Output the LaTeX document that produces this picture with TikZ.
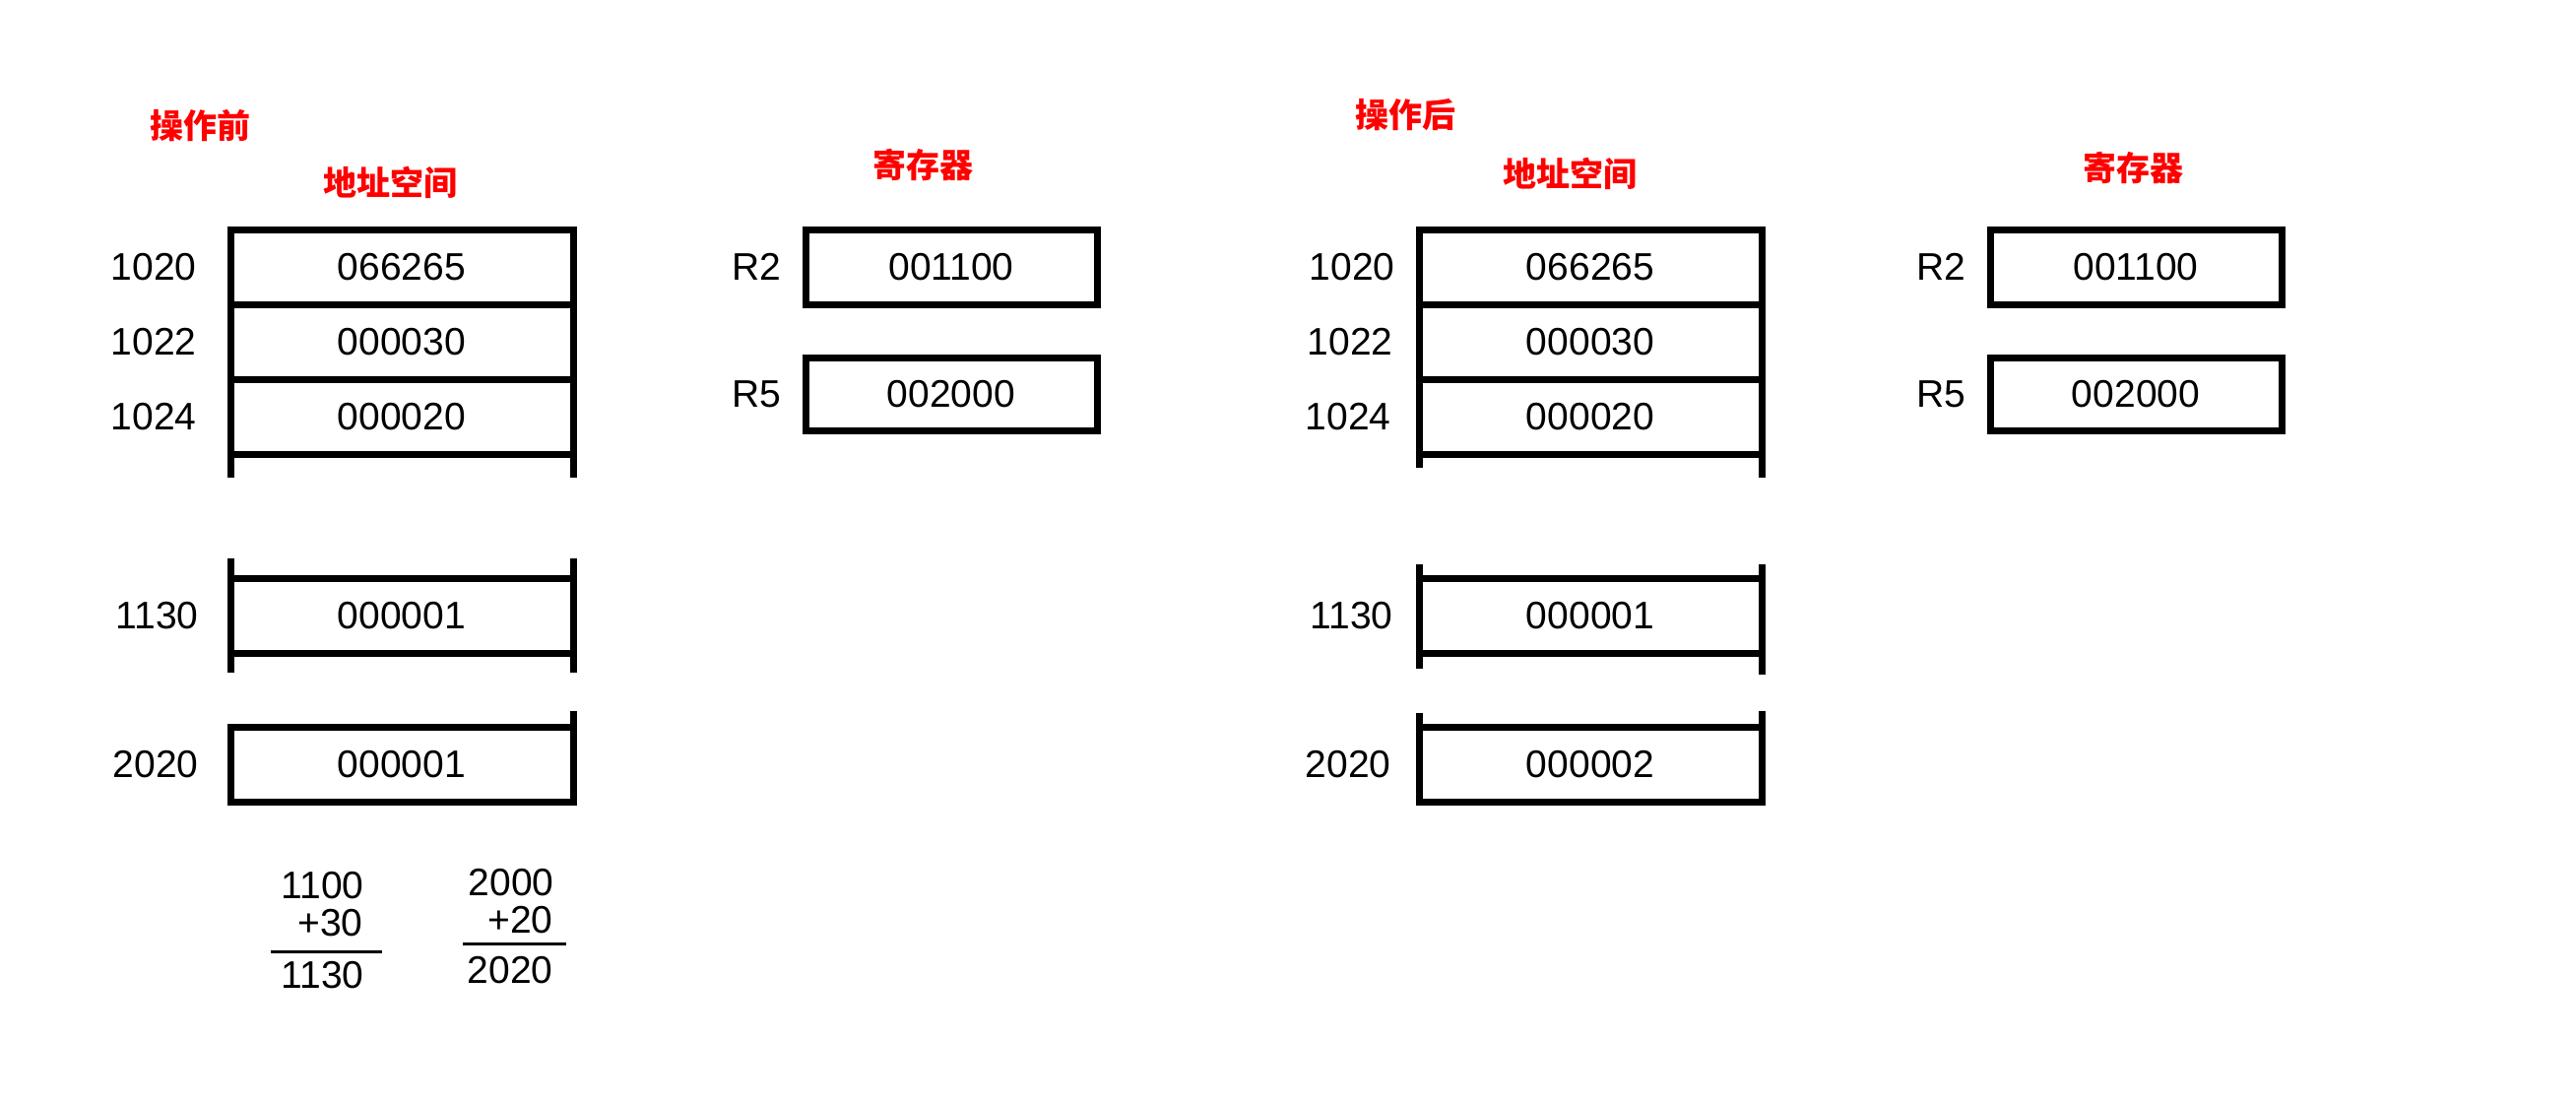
\documentclass[tikz,border=0pt]{standalone}
\usepackage{fontspec}
\setmainfont{Liberation Sans}
\newfontfamily\cjk{Noto Sans CJK SC}
\usetikzlibrary{positioning}
\newcommand\digits{\fontsize{19.5pt}{20pt}\selectfont}
\tikzset{
    cell/.style = {draw, line width=3.5pt, outer sep=0pt, inner sep=0pt, minimum width=174pt, minimum height=38pt, font=\digits},
    reg/.style = {cell, minimum width=148pt},
    addr/.style = {inner sep=0pt, font=\digits},
    title/.style = {red, inner sep=0pt, font=\cjk\bfseries\fontsize{17pt}{17pt}\selectfont},
    wall/.style = {line width=3.5pt},
    sumline/.style = {line width=1.5pt}
}

\begin{document}
\begin{tikzpicture}[x=0.5pt,y=-0.5pt]
      \useasboundingbox (0,0) rectangle (2616,1120);

      % before the operation
      \node[title] (before) at (203,128) {操作前};
      \node[title] (memA) at (396,185) {地址空间};
      \node[title] (regA) at (937,168) {寄存器};

      \node[cell] (a1020) at (408,271) {066265};
      \node[cell] (a1022) at (408,347) {000030};
      \node[cell] (a1024) at (408,423) {000020};
      \node[cell] (a1130) at (408,625) {000001};
      \node[cell] (a2020) at (408,776) {000001};
      \draw[wall] (a1024.south west) -- ++(0,24);
      \draw[wall] (a1024.south east) -- ++(0,24);
      \draw[wall] ([yshift=10pt]a1130.north west) -- ([yshift=-10pt]a1130.south west);
      \draw[wall] ([yshift=10pt]a1130.north east) -- ([yshift=-10pt]a1130.south east);
      \draw[wall] ([yshift=8pt]a2020.north east) -- (a2020.north east);

      \node[addr, left=17pt of a1020] (la1020) {1020};
      \node[addr, left=17pt of a1022] (la1022) {1022};
      \node[addr, left=17pt of a1024] (la1024) {1024};
      \node[addr, left=16pt of a1130] (la1130) {1130};
      \node[addr, left=16pt of a2020] (la2020) {2020};

      \node[reg] (aR2) at (966,271) {001100};
      \node[reg, minimum height=37pt] (aR5) at (966,400) {002000};
      \node[addr, left=12pt of aR2] (laR2) {R2};
      \node[addr, left=12pt of aR5] (laR5) {R5};

      % effective addresses
      \node[addr, anchor=east] (sumA1) at (370,899) {1100};
      \node[addr, anchor=east] (sumA2) at (369,937) {+30};
      \node[addr, anchor=east] (sumA3) at (370,990) {1130};
      \draw[sumline] (275,966) -- (388,966);
      \node[addr, anchor=east] (sumB1) at (563,896) {2000};
      \node[addr, anchor=east] (sumB2) at (562,934) {+20};
      \node[addr, anchor=east] (sumB3) at (562,985) {2020};
      \draw[sumline] (470,958) -- (575,958);

      % after the operation
      \node[title] (after) at (1427,117) {操作后};
      \node[title] (memB) at (1594,176) {地址空间};
      \node[title] (regB) at (2166,171) {寄存器};

      \node[cell] (b1020) at (1615,271) {066265};
      \node[cell] (b1022) at (1615,347) {000030};
      \node[cell] (b1024) at (1615,423) {000020};
      \node[cell] (b1130) at (1615,625) {000001};
      \node[cell] (b2020) at (1615,776) {000002};
      \draw[wall] (b1024.south west) -- ++(0,14);
      \draw[wall] (b1024.south east) -- ++(0,24);
      \draw[wall] ([yshift=7pt]b1130.north west) -- ([yshift=-8pt]b1130.south west);
      \draw[wall] ([yshift=7pt]b1130.north east) -- ([yshift=-11pt]b1130.south east);
      \draw[wall] ([yshift=7pt]b2020.north west) -- (b2020.north west);
      \draw[wall] ([yshift=8pt]b2020.north east) -- (b2020.north east);

      \node[addr, left=12pt of b1020] (lb1020) {1020};
      \node[addr, left=13pt of b1022] (lb1022) {1022};
      \node[addr, left=14pt of b1024] (lb1024) {1024};
      \node[addr, left=13pt of b1130] (lb1130) {1130};
      \node[addr, left=14pt of b2020] (lb2020) {2020};

      \node[reg] (bR2) at (2169,271) {001100};
      \node[reg, minimum height=37pt] (bR5) at (2169,400) {002000};
      \node[addr, left=12pt of bR2] (lbR2) {R2};
      \node[addr, left=12pt of bR5] (lbR5) {R5};
\end{tikzpicture}
\end{document}
